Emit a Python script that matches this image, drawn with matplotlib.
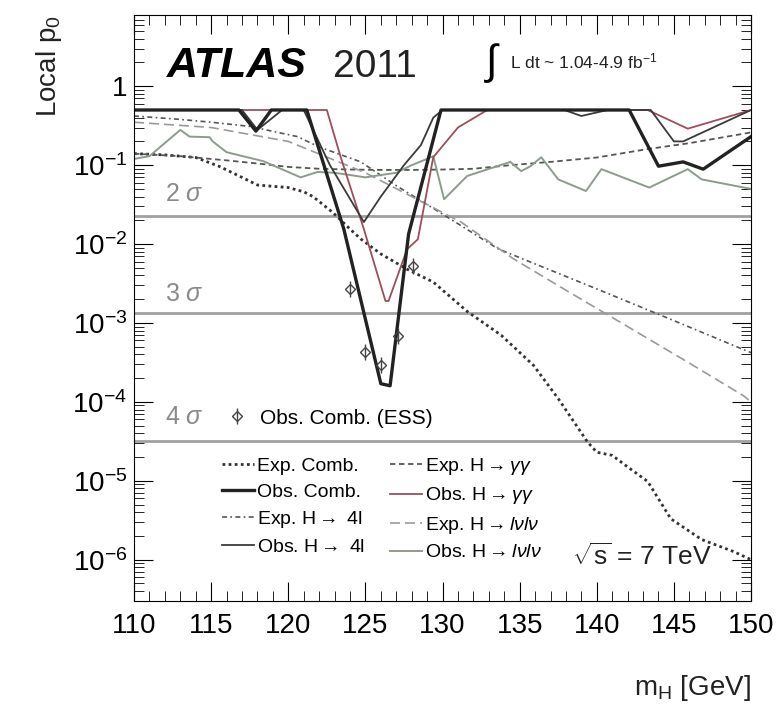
import numpy as np
import matplotlib.pyplot as plt
from matplotlib.ticker import FixedLocator, FuncFormatter, MultipleLocator, NullFormatter

plt.rcParams['font.family'] = ['Liberation Sans', 'DejaVu Sans']
plt.rcParams['mathtext.fontset'] = 'custom'
plt.rcParams['mathtext.rm'] = 'Liberation Sans'
plt.rcParams['mathtext.it'] = 'Liberation Sans:italic'
plt.rcParams['mathtext.bf'] = 'Liberation Sans:bold'
plt.rcParams.update({
    'xtick.direction': 'in', 'ytick.direction': 'in',
    'xtick.top': True, 'ytick.right': True,
    'xtick.major.size': 14, 'ytick.major.size': 14,
    'xtick.minor.size': 7, 'ytick.minor.size': 7,
    'xtick.major.pad': 9, 'ytick.major.pad': 5,
    'xtick.labelsize': 20, 'ytick.labelsize': 20,
})

# expected curves
m_exp_comb = [110, 112, 114, 115.5, 117, 118, 120, 121, 121.6, 122.9, 124, 124.7, 126, 127.7, 129.4,
              131.6, 133.8, 135.9, 137.5, 139.4, 140, 141, 142, 143.3, 144.8, 146.8, 148.9, 150]
p_exp_comb = [0.14, 0.135, 0.125, 0.097, 0.07, 0.056, 0.052, 0.046, 0.04, 0.025, 0.0155, 0.0116, 0.0075,
              0.0048, 0.0033, 0.0014, 0.0007, 0.00029, 0.00011, 3.1e-5, 2.3e-5, 2.1e-5, 1.5e-5, 9.8e-6,
              3.3e-6, 1.8e-6, 1.26e-6, 1.0e-6]

m_exp_gg = [110, 113, 116, 118, 120, 122, 124, 126, 128, 130, 132, 134.4, 137, 140, 143.3, 146, 150]
p_exp_gg = [0.14, 0.13, 0.115, 0.105, 0.095, 0.09, 0.088, 0.087, 0.087, 0.088, 0.09, 0.1, 0.11, 0.125,
            0.16, 0.19, 0.26]

m_exp_4l = [110, 113, 115, 117.5, 120.6, 122, 124.7, 127, 130, 133.6, 136, 140, 145, 150]
p_exp_4l = [0.42, 0.38, 0.35, 0.31, 0.23, 0.17, 0.11, 0.055, 0.024, 0.0087, 0.0056, 0.0027, 0.00107, 0.00042]

m_exp_lvlv = [110, 115, 120, 125, 128, 131.2, 134.6, 138, 142, 146, 149.5, 150]
p_exp_lvlv = [0.35, 0.3, 0.2, 0.08, 0.04, 0.019, 0.0065, 0.0026, 0.0009, 0.00031, 0.00012, 0.0001]

# observed curves
m_obs_comb = [110, 116.8, 117.9, 118.9, 121.2, 123.6, 126.0, 126.6, 127.8, 129.9, 142.1, 144.0, 145.6,
              146.9, 150]
p_obs_comb = [0.5, 0.5, 0.27, 0.5, 0.5, 0.0155, 1.7e-4, 1.6e-4, 0.0134, 0.5, 0.5, 0.097, 0.11, 0.089, 0.23]

m_obs_gg = [110, 122.5, 123.4, 124.9, 126.3, 126.5, 127.7, 128.4, 129.4, 131.0, 132.9, 143.3, 145.9, 150]
p_obs_gg = [0.5, 0.5, 0.126, 0.0155, 0.0019, 0.0019, 0.0086, 0.0115, 0.126, 0.3, 0.5, 0.5, 0.29, 0.5]

m_obs_4l = [110, 117, 118, 119.6, 121.0, 122.7, 124.9, 126.0, 127.5, 128.6, 129.4, 130, 137.9, 139,
            140.7, 143.5, 145.0, 145.6, 150]
p_obs_4l = [0.5, 0.5, 0.28, 0.5, 0.5, 0.1, 0.019, 0.04, 0.1, 0.18, 0.4, 0.5, 0.5, 0.42, 0.5, 0.5, 0.2,
            0.2, 0.5]

m_obs_lvlv = [110, 111, 113, 113.6, 114.9, 115.1, 116, 118.4, 120.8, 121.9, 123, 124, 125, 126, 127, 128,
              129, 129.4, 130.1, 131.6, 134.4, 135.1, 135.7, 136.4, 137.5, 139.3, 140.3, 143.4, 145.9,
              146.8, 150]
p_obs_lvlv = [0.12, 0.13, 0.28, 0.23, 0.226, 0.2, 0.146, 0.112, 0.07, 0.082, 0.08, 0.075, 0.07, 0.075,
              0.08, 0.1, 0.12, 0.13, 0.037, 0.073, 0.11, 0.084, 0.097, 0.126, 0.066, 0.047, 0.089, 0.052,
              0.089, 0.066, 0.05]

# energy scale systematic points
m_ess = [124.0, 125.0, 126.0, 127.1, 128.1]
p_ess = [2.7e-3, 4.3e-4, 2.9e-4, 6.9e-4, 5.3e-3]

sigma_labels = ['2 $\\sigma$', '3 $\\sigma$', '4 $\\sigma$']
sigma_p = [0.0228, 0.00135, 3.17e-5]
sigma_text_p = [0.043, 0.0023, 6.5e-5]

y_major = [1e-6, 1e-5, 1e-4, 1e-3, 1e-2, 1e-1, 1]

fig = plt.figure(figsize=(7.82, 7.07), dpi=100)
ax = fig.add_axes([0.1714, 0.150, 0.789, 0.8288])
ax.set_xlim(110, 150)
ax.set_yscale('log')

for p, lab, tp in zip(sigma_p, sigma_labels, sigma_text_p):
    ax.axhline(p, color='#a0a0a0', lw=2, zorder=1)
    ax.text(112.0, tp, lab, color='#8a8a8a', fontsize=18, va='center', ha='left')

l_ec, = ax.plot(m_exp_comb, p_exp_comb, color='#333333', lw=2.0, ls=(0, (1, 1.2)))
l_eg, = ax.plot(m_exp_gg, p_exp_gg, color='#555555', lw=1.3, ls=(0, (3, 2)))
l_e4, = ax.plot(m_exp_4l, p_exp_4l, color='#555555', lw=1.2, ls=(0, (3, 2, 1, 2)))
l_ew, = ax.plot(m_exp_lvlv, p_exp_lvlv, color='#9a9a9a', lw=1.2, ls=(0, (6, 3)))
l_ow, = ax.plot(m_obs_lvlv, p_obs_lvlv, color='#8c9c8c', lw=1.4)
l_og, = ax.plot(m_obs_gg, p_obs_gg, color='#9c4f5a', lw=1.3)
l_o4, = ax.plot(m_obs_4l, p_obs_4l, color='#3a3a3a', lw=1.3)
l_oc, = ax.plot(m_obs_comb, p_obs_comb, color='#222222', lw=2.4)
ess_d, = ax.plot(m_ess, p_ess, ls='none', marker='D', ms=5, mfc='none', mec='#444444', mew=1.0)
ess_v, = ax.plot(m_ess, p_ess, ls='none', marker='|', ms=11, mec='#444444', mew=1.0)

ax.set_xlim(110, 150)
ax.set_ylim(3e-7, 8)

ax.xaxis.set_major_locator(MultipleLocator(5))
ax.xaxis.set_minor_locator(MultipleLocator(1))
ax.yaxis.set_major_locator(FixedLocator(y_major))
y_minor = [d * k for d in [1e-7] + y_major for k in range(2, 10)]
ax.yaxis.set_minor_locator(FixedLocator(y_minor))
ax.yaxis.set_minor_formatter(NullFormatter())


def yfmt(v, pos):
    e = int(round(np.log10(v)))
    if e == 0:
        return '1'
    return r'$10^{%d}$' % e


ax.yaxis.set_major_formatter(FuncFormatter(yfmt))

ax.set_ylabel('Local p$_0$', fontsize=20, loc='top', color='#222222', labelpad=6)
ax.set_xlabel(r'm$_\mathrm{H}$ [GeV]', fontsize=20, loc='right', color='#222222', labelpad=24)

ax.text(0.053, 0.894, 'ATLAS', transform=ax.transAxes, fontsize=31, fontweight='bold',
        fontstyle='italic', ha='left', va='baseline')
ax.text(0.3225, 0.894, '2011', transform=ax.transAxes, fontsize=28, ha='left', va='baseline',
        color='#222222')
ax.text(0.568, 0.918, r'$\int$', transform=ax.transAxes, fontsize=30, ha='left', va='center')
ax.text(0.609, 0.92, r'L dt ~ 1.04-4.9 fb$^{-1}$', transform=ax.transAxes, fontsize=12.5,
        ha='left', va='center', color='#222222')
ax.text(0.71, 0.075, r'$\sqrt{\mathrm{s}}$ = 7 TeV', transform=ax.transAxes, fontsize=19,
        ha='left', va='center', color='#222222')

handles = [l_ec, l_oc, l_e4, l_o4, l_eg, l_og, l_ew, l_ow]
labels = ['Exp. Comb.', 'Obs. Comb.', r'Exp. H$\rightarrow$ 4l', r'Obs. H$\rightarrow$ 4l',
          r'Exp. H$\rightarrow\gamma\gamma$', r'Obs. H$\rightarrow\gamma\gamma$',
          r'Exp. H$\rightarrow l\nu l\nu$', r'Obs. H$\rightarrow l\nu l\nu$']
leg = ax.legend(handles, labels, ncol=2, loc='upper left', bbox_to_anchor=(0.1426, 0.247),
                frameon=False, fontsize=14, handlelength=1.65, handletextpad=0.15,
                columnspacing=1.3, labelspacing=0.42, borderpad=0, borderaxespad=0)
ax.add_artist(leg)
ax.legend([(ess_d, ess_v)], ['Obs. Comb. (ESS)'], loc='center left', bbox_to_anchor=(0.15, 0.312),
          frameon=False, fontsize=15, handlelength=1.0, handletextpad=0.6, borderpad=0, borderaxespad=0)

fig.savefig('out.png', dpi=100)
